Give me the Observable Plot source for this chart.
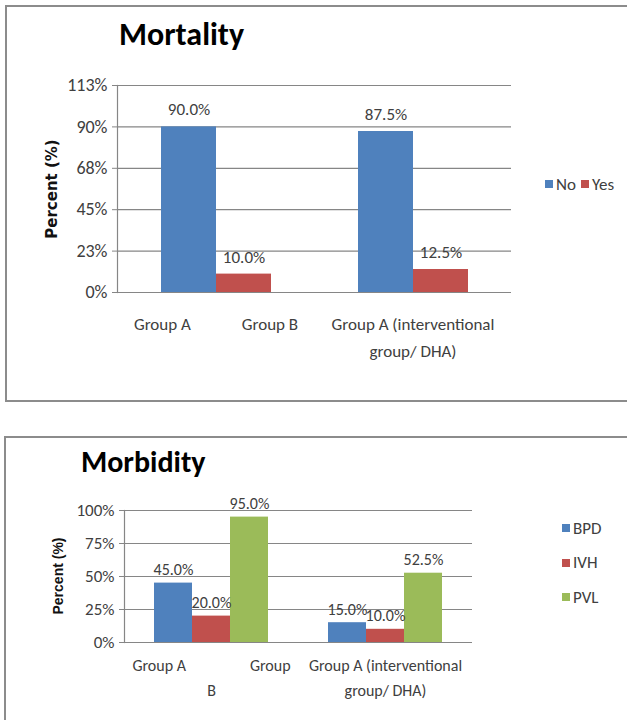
<!DOCTYPE html>
<html>
<head>
<meta charset="utf-8">
<script src="https://cdn.jsdelivr.net/npm/d3@7"></script>
<script src="https://cdn.jsdelivr.net/npm/@observablehq/plot@0.6"></script>
<style>
  html, body { margin: 0; padding: 0; background: #fff; }
  #page { position: relative; width: 627px; height: 720px; overflow: hidden; background: #fff;
          font-family: Carlito, Calibri, Lato, sans-serif; color: #404040; }
  .box { position: absolute; border: 2px solid #8c8c8c; box-sizing: border-box; }
  .title { position: absolute; font-weight: bold; color: #000; white-space: nowrap; }
  .ytitle { position: absolute; font-weight: bold; color: #111; white-space: nowrap; transform: translate(-50%, -50%) rotate(-90deg); }
  .chart { position: absolute; }
  .legend { position: absolute; font-size: 17px; color: #404040; white-space: nowrap; }
  .legend .item { display: flex; align-items: center; }
  .legend .sw { display: inline-block; width: 8px; height: 8px; margin-right: 3px; }
</style>
</head>
<body>
<div id="page">
  <div class="box" style="left:5px; top:5px; width:640px; height:397px;"></div>
  <div class="box" style="left:4px; top:436px; width:640px; height:300px;"></div>
  <div class="title" id="t1" style="left:119px; top:15px; font-size:32px;"></div>
  <div class="title" id="t2" style="left:81px; top:443px; font-size:30px;"></div>
  <div class="ytitle" id="y1" style="left:52px; top:189px; font-family:'DejaVu Sans'; font-size:15px;"></div>
  <div class="ytitle" id="y2" style="left:58px; top:576px; font-family:'Liberation Sans'; font-size:14px;"></div>
  <div class="chart" id="c1" style="left:0px; top:60px;"></div>
  <div class="chart" id="c2" style="left:0px; top:480px;"></div>
  <div class="legend" id="l1" style="left:545px; top:172px;"></div>
  <div class="legend" id="l2" style="left:562px; top:511px;"></div>
</div>
<script>
// ---------- data ----------
const mortTitle = "Mortality";
const morbTitle = "Morbidity";
const yTitle = "Percent (%)";

const mortCategories = ["Group A / Group B", "Group A (interventional group/ DHA)"];
const mortCategoryLabels = ["Group A\u2003\u2003\u2003Group B", "Group A (interventional\ngroup/ DHA)"];
const mortSeries = ["No", "Yes"];
const mortNo = [90.0, 87.5];
const mortYes = [10.0, 12.5];
const mortColors = ["#4F81BD", "#C0504D"];
const mortTicks = [0, 22.5, 45, 67.5, 90, 112.5];

const morbCategories = ["Group A / Group B", "Group A (interventional group/ DHA)"];
const morbCategoryLabels = ["Group A\u2003\u2003\u2003\u2003Group\nB", "Group A (interventional\ngroup/ DHA)"];
const morbSeries = ["BPD", "IVH", "PVL"];
const morbBPD = [45.0, 15.0];
const morbIVH = [20.0, 10.0];
const morbPVL = [95.0, 52.5];
const morbColors = ["#4F81BD", "#C0504D", "#9BBB59"];
const morbTicks = [0, 25, 50, 75, 100];

// ---------- build ----------
const FONT = 'Carlito, Calibri, Lato, sans-serif';
const GRID = "#868686";
const TXT = "#404040";

document.getElementById("t1").textContent = mortTitle;
document.getElementById("t2").textContent = morbTitle;
document.getElementById("y1").textContent = yTitle;
document.getElementById("y2").textContent = yTitle;

const mortData = [];
mortCategories.forEach((c, i) => {
  [mortNo, mortYes].forEach((arr, s) => mortData.push({group: c, series: mortSeries[s], value: arr[i]}));
});
const morbData = [];
morbCategories.forEach((c, i) => {
  [morbBPD, morbIVH, morbPVL].forEach((arr, s) => morbData.push({group: c, series: morbSeries[s], value: arr[i]}));
});

const fmtTick = d => Math.round(d) + "%";
const fmtVal = d => d.toFixed(1) + "%";

function chart({data, categories, labels, series, colors, ticks, ymax, width, height, margins, xPadOuter, labelDy, labelLineHeight, valueDy, fontSize, tickFontSize}) {
  return Plot.plot({
    width, height,
    marginLeft: margins[0], marginRight: margins[1], marginTop: margins[2], marginBottom: margins[3],
    style: {fontFamily: FONT, fontSize: fontSize + "px", color: TXT, background: "transparent", overflow: "visible"},
    fx: {domain: categories, padding: 0, axis: null},
    x: {domain: series, paddingInner: 0, paddingOuter: xPadOuter, axis: null},
    y: {domain: [0, ymax], axis: null},
    color: {domain: series, range: colors},
    marks: [
      Plot.gridY({ticks, stroke: GRID, strokeOpacity: 1, strokeWidth: 1.2}),
      Plot.axisY({ticks, tickSize: 5, tickPadding: 5, stroke: GRID, fill: TXT, tickFormat: fmtTick, label: null, fontSize: tickFontSize}),
      Plot.frame({anchor: "left", stroke: GRID, strokeWidth: 1.2, facetAnchor: "left"}),
      Plot.barY(data, {fx: "group", x: "series", y: "value", fill: "series"}),
      Plot.text(data, {fx: "group", x: "series", y: "value", text: d => fmtVal(d.value), dy: valueDy, fill: TXT, fontSize}),
      Plot.text(categories, {fx: d => d, text: (d, i) => labels[i], frameAnchor: "bottom", lineAnchor: "top", dy: labelDy, lineHeight: labelLineHeight, fill: TXT, fontSize})
    ]
  });
}

document.getElementById("c1").append(chart({
  data: mortData, categories: mortCategories, labels: mortCategoryLabels, series: mortSeries, colors: mortColors,
  ticks: mortTicks, ymax: 112.5, width: 520, height: 320, margins: [117, 9, 25, 88],
  xPadOuter: 0.76, labelDy: 19, labelLineHeight: 1.55, valueDy: -17, fontSize: 17, tickFontSize: 18
}));

document.getElementById("c2").append(chart({
  data: morbData, categories: morbCategories, labels: morbCategoryLabels, series: morbSeries, colors: morbColors,
  ticks: morbTicks, ymax: 100, width: 490, height: 230, margins: [123, 18, 30, 68],
  xPadOuter: 0.766, labelDy: 11, labelLineHeight: 1.55, valueDy: -13, fontSize: 16, tickFontSize: 17
}));

// legends (HTML, from the same arrays)
function legend(el, series, colors, horizontal, rowGap) {
  series.forEach((s, i) => {
    const it = document.createElement("div");
    it.className = "item";
    if (horizontal) { it.style.display = "inline-flex"; it.style.marginRight = "5px"; }
    else { it.style.height = rowGap + "px"; it.style.alignItems = "center"; }
    const sw = document.createElement("span");
    sw.className = "sw"; sw.style.background = colors[i];
    const tx = document.createElement("span");
    tx.textContent = s;
    it.append(sw, tx);
    el.append(it);
  });
}
legend(document.getElementById("l1"), mortSeries, mortColors, true, 0);
legend(document.getElementById("l2"), morbSeries, morbColors, false, 34.5);
</script>
</body>
</html>
